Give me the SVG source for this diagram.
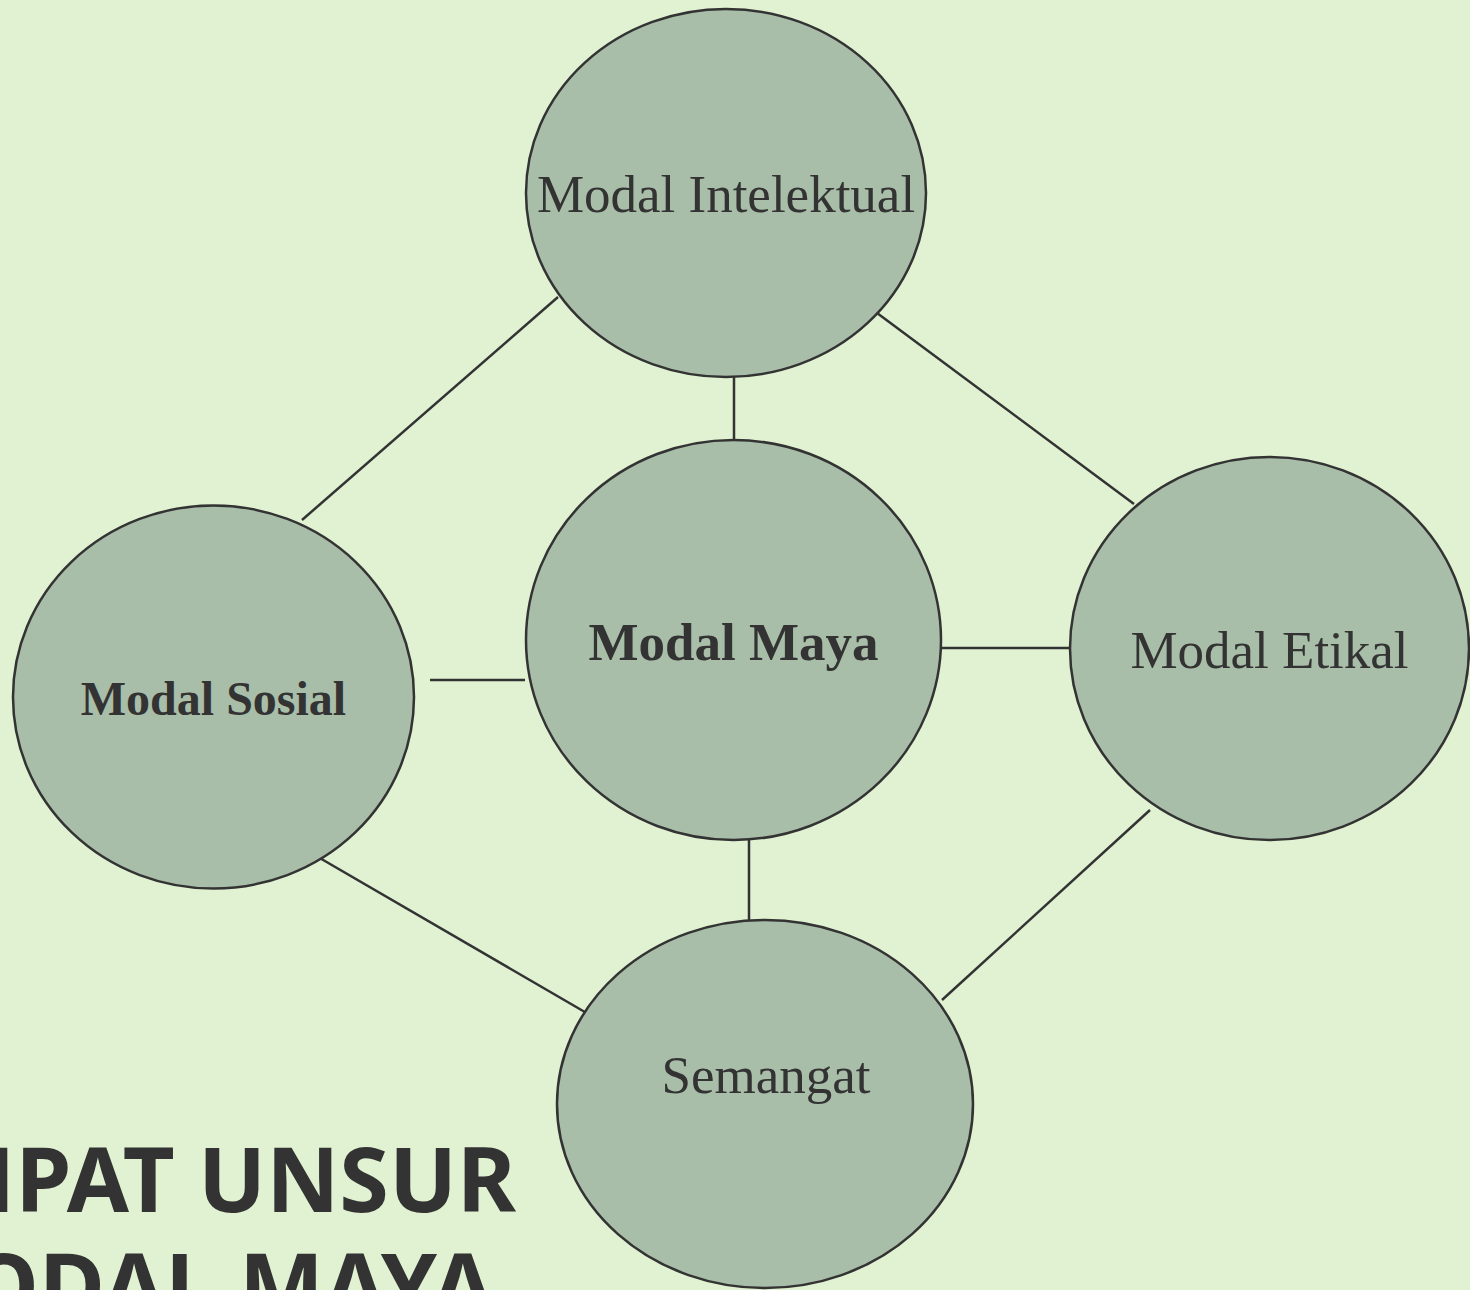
<svg xmlns="http://www.w3.org/2000/svg" width="1470" height="1290" viewBox="0 0 1470 1290">
<style>
.node{fill:#A9BEA9;stroke:#333333;stroke-width:2.5}
.lbl{font-family:"Liberation Serif","Times New Roman",serif;font-size:53px;fill:#333333;text-anchor:middle}
.b{font-weight:bold}
.edge{stroke:#333333;stroke-width:2.5;fill:none}
.title{font-family:"Noto Sans","Open Sans",sans-serif;font-weight:bold;font-size:90px;fill:#333333;text-anchor:end}
</style>
<rect width="1470" height="1290" fill="#E0F2D2"/>
<g id="connectors">
<line class="edge" x1="558" y1="297" x2="302" y2="520"/>
<line class="edge" x1="734" y1="377" x2="734" y2="440"/>
<line class="edge" x1="877" y1="313" x2="1134" y2="504"/>
<line class="edge" x1="430" y1="680" x2="525" y2="680"/>
<line class="edge" x1="941" y1="648" x2="1070" y2="648"/>
<line class="edge" x1="749" y1="840" x2="749" y2="920"/>
<line class="edge" x1="318" y1="857" x2="590" y2="1015"/>
<line class="edge" x1="1150" y1="810" x2="942" y2="1000"/>
</g>
<g id="title">
<text class="title" x="516" y="1212">EMPAT UNSUR</text>
<text class="title" x="494" y="1318">MODAL MAYA</text>
</g>
<g id="modal-intelektual">
<ellipse class="node" cx="726" cy="193" rx="200" ry="184"/>
<text class="lbl" x="726" y="212">Modal Intelektual</text>
</g>
<g id="modal-maya">
<ellipse class="node" cx="733.5" cy="640" rx="207.5" ry="200"/>
<text class="lbl b" x="733.5" y="660">Modal Maya</text>
</g>
<g id="modal-etikal">
<ellipse class="node" cx="1269.5" cy="648.5" rx="199.5" ry="191.5"/>
<text class="lbl" x="1269.5" y="668">Modal Etikal</text>
</g>
<g id="modal-sosial">
<ellipse class="node" cx="213.5" cy="697" rx="200.5" ry="191.5"/>
<text class="lbl b" x="213.5" y="715" style="font-size:48px">Modal Sosial</text>
</g>
<g id="semangat">
<ellipse class="node" cx="765" cy="1104" rx="208" ry="184"/>
<text class="lbl" x="766" y="1093">Semangat</text>
</g>
</svg>
